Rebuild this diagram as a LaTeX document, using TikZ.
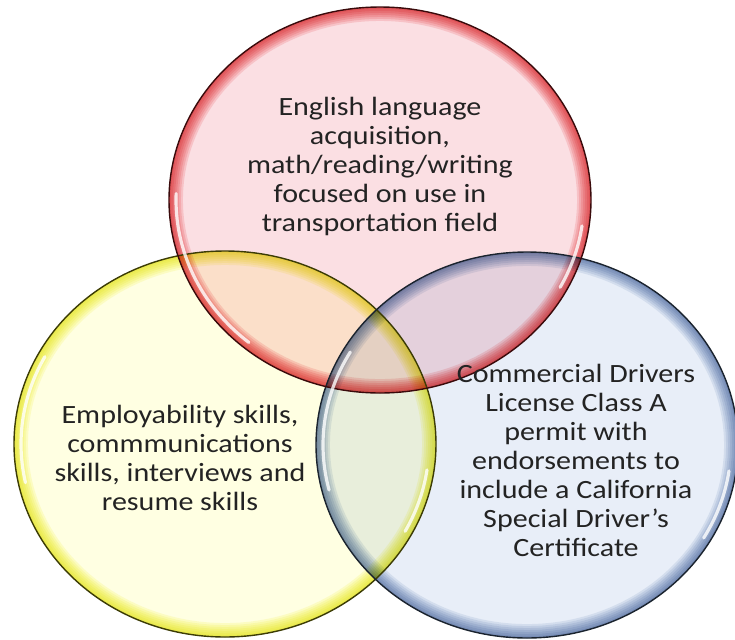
\documentclass[tikz,border=0pt]{standalone}
\usepackage{fontspec}
\setmainfont{Carlito}[FakeStretch=1.14]

\definecolor{redfill}{RGB}{251,223,227}
\definecolor{redrim}{RGB}{232,40,45}
\definecolor{yellowfill}{RGB}{255,255,226}
\definecolor{yellowrim}{RGB}{238,238,20}
\definecolor{bluefill}{RGB}{232,238,248}
\definecolor{bluerim}{RGB}{105,138,185}
\definecolor{textgray}{RGB}{35,35,35}

\tikzset{
  setrim/.style={draw=#1, opacity=0.15},
  setline/.style={draw=#1!25!black, line width=0.8pt},
  gloss/.style={draw=white, line width=1.8pt, opacity=0.8, line cap=round},
  settext/.style={align=center, text=textgray, font=\fontsize{15}{16.5}\selectfont}
}

\begin{document}
\begin{tikzpicture}[x=0.02cm, y=-0.02cm]
\useasboundingbox (0,0) rectangle (735,640);
\fill[white] (0,0) rectangle (735,640);

\begin{scope}[blend mode=multiply]
  \foreach \cx/\cy/\col in {225/444/yellow, 527/445/blue, 380/200/red}
    \fill[\col fill] (\cx,\cy) ellipse [x radius=211, y radius=193];
\end{scope}

\foreach \cx/\cy/\col in {225/444/yellow, 527/445/blue, 380/200/red}{
  \begin{scope}[blend mode=multiply]
    \clip (\cx,\cy) ellipse [x radius=211, y radius=193];
    \foreach \w in {4,8,...,28}
      \draw[setrim=\col rim, line width=\w*0.567pt] (\cx,\cy) ellipse [x radius=211, y radius=193];
  \end{scope}
}

\foreach \cx/\cy/\col in {225/444/yellow, 527/445/blue, 380/200/red}
  \draw[setline=\col rim] (\cx,\cy) ellipse [x radius=211, y radius=193];

\draw[gloss] ([shift={(182:204 and 186)}]380,200) arc [start angle=182, end angle=130, x radius=204, y radius=186];
\draw[gloss] ([shift={(8:204 and 186)}]380,200) arc [start angle=8, end angle=28, x radius=204, y radius=186];
\draw[gloss] ([shift={(208:204 and 186)}]225,444) arc [start angle=208, end angle=168, x radius=204, y radius=186];
\draw[gloss] ([shift={(8:204 and 186)}]225,444) arc [start angle=8, end angle=28, x radius=204, y radius=186];
\draw[gloss] ([shift={(210:204 and 186)}]527,445) arc [start angle=210, end angle=166, x radius=204, y radius=186];
\draw[gloss] ([shift={(8:204 and 186)}]527,445) arc [start angle=8, end angle=30, x radius=204, y radius=186];

\node[settext] (english) at (380,166) {English language\\acquisition,\\math/reading/writing\\focused on use in\\transportation field};
\node[settext] (employ) at (180,458) {Employability skills,\\commmunications\\skills, interviews and\\resume skills};
\node[settext] (cdl) at (576,460) {Commercial Drivers\\License Class A\\permit with\\endorsements to\\include a California\\Special Driver's\\Certificate};
\end{tikzpicture}
\end{document}
